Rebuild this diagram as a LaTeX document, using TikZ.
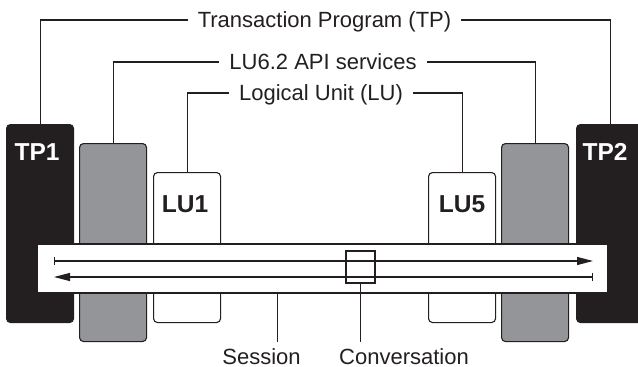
\documentclass[tikz,border=0pt]{standalone}
\usepackage{fontspec}
\setmainfont{Liberation Sans}
\usetikzlibrary{arrows.meta,positioning}
\definecolor{ink}{HTML}{231F20}
\definecolor{midgray}{HTML}{939598}
\begin{document}
\begin{tikzpicture}[x=1pt,y=-1pt,
        unitbox/.style={draw=ink,line width=1.1pt,rounded corners=4pt,anchor=north west,
            inner sep=0pt,minimum width=67pt,minimum height=198pt},
        tpbox/.style={unitbox,fill=ink},
        apibox/.style={unitbox,fill=midgray},
        lubox/.style={unitbox,fill=white,minimum height=150pt},
        boxlabel/.style={font=\fontsize{24.5}{29}\selectfont\bfseries,text height=17.5pt,text depth=0pt,inner sep=0pt},
        toplabel/.style={font=\fontsize{22}{26}\selectfont,text=ink,text height=15.8pt,text depth=0pt,inner sep=10pt},
        leader/.style={draw=ink,line width=1.1pt}]
    \useasboundingbox (0,0) rectangle (638,367);
    % stations on both ends
    \node[tpbox] (tp1) at (6,124) {};
    \node[apibox] (api1) at (79,143) {};
    \node[lubox] (lu1) at (153,172) {};
    \node[lubox] (lu5) at (428,172) {};
    \node[apibox] (api2) at (501,143) {};
    \node[tpbox] (tp2) at (576,124) {};
    \node[boxlabel,text=white] (tp1l) at (37,152) {TP1};
    \node[boxlabel,text=white] (tp2l) at (605,152) {TP2};
    \node[boxlabel,text=ink] (lu1l) at (185,204) {LU1};
    \node[boxlabel,text=ink] (lu5l) at (462,204) {LU5};
    % session band
    \node[draw=ink,fill=white,line width=1.1pt,minimum width=571pt,minimum height=49pt,inner sep=0pt] (band) at (322.5,268.5) {};
    \coordinate (a1) at (54,261);
    \coordinate (a2) at (593,261);
    \coordinate (a3) at (593,277);
    \coordinate (a4) at (54,277);
    \draw[leader,{Bar[width=8pt]}-{Triangle[length=16pt,width=8pt]}] (a1) -- (a2);
    \draw[leader,{Bar[width=8pt]}-{Triangle[length=16pt,width=8pt]}] (a3) -- (a4);
    \node[draw=ink,line width=1.1pt,minimum width=29pt,minimum height=32pt,inner sep=0pt] (conv) at (360.5,267) {};
    % labels on top
    \node[toplabel] (tpl) at (324.5,20) {Transaction Program (TP)};
    \node[toplabel] (apil) at (323,62) {LU6.2 API services};
    \node[toplabel] (lul) at (321,93) {Logical Unit (LU)};
    \draw[leader] (tp1.north) |- (tpl.west);
    \draw[leader] (tp2.north) |- (tpl.east);
    \draw[leader] (api1.north) |- (apil.west);
    \draw[leader] (api2.north) |- (apil.east);
    \draw[leader] (lu1.north) |- (lul.west);
    \draw[leader] (lu5.north) |- (lul.east);
    % labels below
    \node[toplabel,inner sep=0pt] (sessl) at (261.5,357) {Session};
    \node[toplabel,inner sep=0pt] (convl) at (404,357) {Conversation};
    \coordinate (s1) at (277.5,342);
    \draw[leader] (s1) -- (s1 |- band.south);
    \draw[leader] (conv.south) -- (conv.south |- s1);
\end{tikzpicture}
\end{document}
